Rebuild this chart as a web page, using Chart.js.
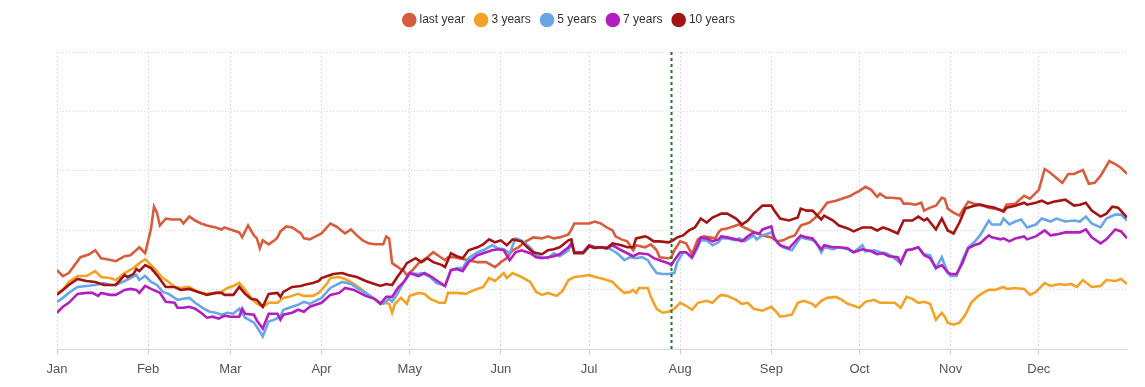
<!DOCTYPE html>
<html>
<head>
<meta charset="utf-8">
<script src="https://cdn.jsdelivr.net/npm/chart.js@4.4.1/dist/chart.umd.min.js"></script>
<style>
  html, body { margin: 0; padding: 0; background: #ffffff; }
  #wrap { width: 1145px; height: 387px; }
</style>
</head>
<body>
<div id="wrap"><canvas id="c" width="1145" height="387"></canvas></div>
<script>
// Month tick positions (day of year, 0 = Jan 1) and labels
const monthStarts = [0, 31, 59, 90, 120, 151, 181, 212, 243, 273, 304, 334];
const monthLabels = ["Jan", "Feb", "Mar", "Apr", "May", "Jun", "Jul", "Aug", "Sep", "Oct", "Nov", "Dec"];
const markerDay = 209; // Jul 29

const seriesNames = ["last year", "3 years", "5 years", "7 years", "10 years"];

// [day of year, value]
const lastYear = [[0,80],[2,74],[4,77],[6,85],[8,93],[11,96],[13,100],[15,92],[17,91],[20,89],[23,94],[25,95],[28,103],[29,100],[30,97],[32,122],[33,144],[34,138],[35,125],[37,132],[39,131],[42,131],[43,127],[45,134],[47,130],[49,127],[51,125],[54,123],[56,121],[57,123],[59,121],[62,118],[63,113],[65,125],[67,115],[68,112],[69,102],[70,110],[72,106],[74,110],[75,113],[76,119],[78,124],[80,123],[83,117],[84,112],[86,111],[88,114],[90,117],[93,127],[95,124],[98,117],[100,121],[102,115],[104,110],[106,107],[108,106],[111,106],[112,114],[113,112],[114,87],[116,83],[118,79],[119,75],[121,80],[123,87],[126,93],[128,98],[130,94],[132,90],[133,93],[135,93],[140,90],[143,88],[146,88],[149,83],[151,88],[153,92],[155,100],[157,103],[159,108],[162,113],[165,112],[167,114],[169,112],[171,113],[174,116],[175,121],[176,127],[179,127],[181,127],[183,129],[185,127],[187,123],[189,120],[190,114],[192,111],[194,109],[196,100],[197,105],[200,103],[202,106],[204,100],[205,93],[208,92],[209,93],[210,100],[212,109],[213,108],[214,107],[216,96],[218,111],[220,114],[222,113],[224,112],[225,118],[226,121],[228,122],[230,124],[232,126],[233,124],[236,120],[238,117],[240,115],[243,113],[245,109],[247,110],[249,113],[251,115],[253,125],[256,128],[258,133],[260,140],[262,148],[265,150],[267,152],[270,155],[271,157],[273,160],[275,164],[277,161],[279,154],[280,157],[282,153],[284,153],[287,152],[288,147],[290,147],[292,146],[294,148],[295,140],[297,143],[299,145],[301,153],[302,152],[303,142],[305,138],[307,135],[308,140],[310,149],[312,147],[314,146],[317,143],[319,142],[322,140],[323,146],[326,147],[329,155],[331,152],[334,161],[336,182],[338,178],[340,173],[342,168],[344,177],[346,177],[349,181],[351,167],[353,168],[355,175],[358,190],[360,187],[362,183],[364,177]];

const threeYears = [[0,57],[2,60],[4,68],[7,74],[10,74],[13,79],[15,73],[18,72],[20,70],[23,77],[26,82],[28,87],[30,91],[32,85],[33,82],[36,72],[38,68],[40,63],[42,62],[44,63],[45,63],[48,58],[51,56],[54,57],[56,58],[58,62],[60,64],[62,67],[64,60],[66,52],[68,46],[70,43],[72,47],[75,47],[77,52],[79,53],[82,56],[84,54],[87,54],[89,57],[90,60],[92,67],[93,72],[96,73],[98,71],[101,66],[103,62],[106,55],[108,51],[110,46],[111,47],[113,46],[114,37],[115,46],[117,52],[119,46],[120,54],[123,57],[125,56],[127,51],[130,47],[132,47],[133,57],[136,57],[139,56],[142,60],[145,63],[147,72],[149,69],[152,77],[153,72],[155,77],[158,73],[161,68],[163,58],[165,55],[167,57],[170,54],[172,59],[174,70],[176,73],[179,74],[181,75],[183,73],[186,71],[189,68],[191,62],[193,57],[195,58],[196,60],[197,57],[198,62],[201,62],[202,53],[204,41],[206,37],[208,38],[210,41],[212,47],[214,44],[216,40],[218,47],[221,49],[223,47],[225,53],[226,55],[228,54],[231,50],[233,46],[235,47],[237,41],[240,39],[243,43],[245,37],[246,33],[248,34],[250,35],[252,47],[254,49],[257,46],[258,43],[260,49],[262,52],[265,53],[267,50],[269,46],[271,44],[273,42],[275,48],[278,50],[280,47],[282,47],[285,47],[287,42],[289,53],[291,51],[293,47],[295,48],[297,46],[299,30],[301,37],[302,33],[303,27],[305,25],[307,27],[309,35],[311,47],[313,53],[315,57],[317,60],[319,60],[322,63],[323,61],[326,62],[329,61],[331,55],[333,58],[336,67],[338,64],[341,66],[343,65],[345,66],[347,63],[349,70],[352,63],[355,64],[357,70],[360,69],[362,71],[364,66]];

const fiveYears = [[0,48],[2,52],[4,57],[7,63],[10,64],[13,65],[16,67],[18,65],[20,65],[23,69],[25,72],[27,75],[28,70],[30,74],[32,68],[34,65],[36,58],[38,56],[41,50],[43,51],[45,52],[47,47],[50,41],[52,38],[54,37],[56,35],[58,37],[60,36],[62,41],[64,32],[67,27],[69,18],[70,13],[72,28],[74,30],[76,33],[77,40],[80,43],[82,45],[84,48],[86,46],[88,49],[90,52],[93,62],[95,65],[97,68],[100,66],[102,62],[105,57],[107,53],[109,49],[111,46],[113,51],[114,48],[116,57],[118,68],[120,77],[123,76],[124,77],[127,73],[129,67],[132,64],[134,80],[136,82],[138,82],[140,92],[143,98],[145,100],[148,105],[150,102],[152,101],[154,97],[156,112],[158,110],[161,103],[163,95],[165,93],[167,92],[169,97],[171,94],[174,100],[175,107],[176,98],[179,98],[181,105],[183,103],[185,103],[187,103],[189,100],[191,96],[193,90],[195,93],[197,92],[199,93],[201,90],[202,85],[204,77],[206,76],[208,76],[210,77],[211,88],[213,98],[214,98],[216,92],[218,103],[219,110],[221,110],[223,105],[225,108],[226,112],[228,112],[231,110],[232,112],[234,109],[237,115],[238,111],[240,115],[243,118],[245,108],[247,103],[250,100],[253,113],[256,111],[258,109],[260,98],[261,103],[264,101],[266,103],[269,101],[271,98],[274,105],[275,99],[278,100],[280,98],[282,97],[284,94],[287,87],[289,100],[291,101],[293,103],[295,96],[297,95],[299,82],[301,93],[303,77],[304,74],[306,74],[308,90],[310,103],[312,108],[314,115],[317,130],[318,126],[321,126],[322,132],[324,126],[326,129],[328,131],[330,123],[333,126],[335,132],[338,129],[340,132],[343,129],[346,130],[348,129],[350,134],[352,127],[355,123],[357,132],[360,136],[362,136],[364,130]];

const sevenYears = [[0,37],[2,43],[4,47],[7,56],[10,57],[12,57],[14,54],[15,57],[18,55],[20,55],[23,60],[25,61],[27,60],[28,57],[30,64],[32,61],[35,57],[37,48],[40,47],[41,42],[43,42],[45,43],[47,41],[49,37],[51,32],[53,33],[55,31],[57,34],[59,33],[62,33],[63,41],[64,36],[67,35],[68,29],[70,21],[72,36],[75,36],[76,30],[77,35],[80,37],[82,40],[84,38],[86,43],[88,45],[90,47],[93,55],[96,57],[98,62],[101,60],[103,57],[105,54],[108,51],[110,46],[112,53],[114,53],[116,62],[118,68],[120,77],[123,74],[125,77],[127,74],[130,68],[132,64],[134,80],[136,81],[138,79],[140,88],[143,95],[145,97],[148,100],[150,101],[152,100],[154,90],[156,98],[158,100],[161,97],[163,93],[165,92],[167,93],[169,94],[171,96],[174,103],[175,107],[176,98],[179,98],[181,105],[183,103],[185,103],[187,102],[189,105],[192,100],[194,97],[196,94],[198,97],[201,96],[203,92],[205,90],[208,87],[209,85],[210,90],[212,98],[214,98],[216,93],[218,105],[219,113],[221,112],[223,109],[225,111],[226,114],[228,113],[231,111],[233,109],[235,114],[237,118],[239,117],[240,121],[243,124],[244,112],[246,105],[249,102],[253,115],[255,113],[257,112],[260,101],[261,105],[264,103],[266,103],[269,102],[271,98],[274,101],[277,99],[279,96],[281,97],[283,94],[286,93],[287,87],[289,100],[291,101],[293,103],[295,95],[297,92],[299,82],[301,85],[303,78],[304,76],[306,76],[308,87],[310,102],[312,105],[314,107],[317,115],[318,113],[321,111],[322,112],[324,109],[326,112],[329,114],[330,111],[333,114],[336,120],[338,115],[340,116],[343,118],[346,118],[348,118],[350,121],[352,113],[355,107],[357,111],[360,121],[362,119],[364,112]];

const tenYears = [[0,55],[2,60],[4,65],[7,71],[10,69],[13,68],[16,65],[19,65],[20,65],[23,75],[24,73],[26,76],[27,81],[28,79],[30,85],[32,82],[34,75],[36,67],[37,63],[40,63],[42,60],[45,61],[47,59],[51,55],[54,57],[56,57],[57,55],[60,55],[62,63],[64,56],[66,51],[68,50],[70,43],[72,56],[75,57],[76,53],[77,58],[80,63],[83,64],[84,65],[87,67],[89,69],[90,72],[92,74],[94,76],[97,77],[99,75],[102,73],[105,69],[107,67],[110,64],[112,66],[114,65],[116,74],[118,82],[119,87],[122,92],[124,88],[126,92],[128,88],[131,85],[132,83],[134,97],[136,94],[138,92],[140,100],[143,103],[145,106],[147,111],[149,108],[151,110],[153,105],[155,111],[158,109],[160,103],[162,98],[165,96],[167,100],[169,101],[171,103],[174,110],[175,111],[176,97],[179,97],[181,104],[183,102],[185,103],[187,102],[189,107],[192,105],[194,103],[196,103],[197,112],[200,114],[201,113],[203,109],[205,109],[208,108],[209,109],[211,113],[213,115],[215,120],[217,123],[219,132],[221,128],[223,133],[226,137],[228,137],[231,132],[233,126],[235,130],[237,137],[240,145],[243,145],[244,140],[246,132],[249,130],[252,133],[253,142],[255,140],[257,140],[260,131],[261,135],[264,130],[266,125],[269,122],[271,119],[274,123],[277,123],[279,120],[281,123],[283,121],[286,117],[288,130],[291,130],[293,134],[295,130],[296,132],[299,121],[301,132],[303,120],[305,117],[307,128],[309,142],[312,145],[314,146],[317,144],[319,143],[322,139],[323,143],[326,145],[329,148],[330,146],[333,148],[335,150],[337,147],[339,149],[343,151],[346,145],[348,146],[350,148],[352,140],[355,134],[357,137],[359,144],[361,143],[364,133]];

const seriesValues = [lastYear, threeYears, fiveYears, sevenYears, tenYears];
const seriesColors = ["#d65d3d", "#f2a325", "#68a6e6", "#b21ebf", "#a31414"];

const datasets = seriesNames.map((name, i) => ({
  label: name,
  data: seriesValues[i].map(p => ({ x: p[0], y: p[1] })),
  borderColor: seriesColors[i],
  backgroundColor: seriesColors[i],
  borderWidth: 2.6,
  pointRadius: 0,
  pointHoverRadius: 0,
  tension: 0,
  fill: false,
  order: seriesNames.length - i
}));

const markerLine = {
  id: 'markerLine',
  afterDatasetsDraw(chart) {
    const { ctx, chartArea, scales } = chart;
    const x = Math.round(scales.x.getPixelForValue(markerDay)) + 0.5;
    ctx.save();
    ctx.strokeStyle = '#1b7a1b';
    ctx.lineWidth = 2;
    ctx.setLineDash([3, 3]);
    ctx.beginPath();
    ctx.moveTo(x, chartArea.top);
    ctx.lineTo(x, chartArea.bottom);
    ctx.stroke();
    ctx.restore();
  }
};

const legendSpacer = {
  id: 'legendSpacer',
  beforeInit(chart) {
    const origFit = chart.legend.fit;
    chart.legend.fit = function () {
      origFit.call(this);
      this.height += 16;
    };
  },
  afterLayout(chart) {
    // center the legend over the whole canvas rather than the padded area
    chart.legend.left -= 22;
    chart.legend.right -= 22;
  }
};

new Chart(document.getElementById('c'), {
  type: 'line',
  data: { datasets },
  plugins: [markerLine, legendSpacer],
  options: {
    responsive: false,
    animation: false,
    layout: { padding: { left: 57, right: 18, top: 2, bottom: 3 } },
    plugins: {
      legend: {
        position: 'top',
        align: 'center',
        labels: {
          usePointStyle: true,
          pointStyle: 'circle',
          boxWidth: 8.5,
          boxHeight: 8.5,
          padding: 12,
          color: '#333333',
          font: { family: "'Liberation Sans', Arial, sans-serif", size: 12 },
          sort: (a, b) => a.datasetIndex - b.datasetIndex
        }
      },
      tooltip: { enabled: false }
    },
    scales: {
      x: {
        type: 'linear',
        min: 0,
        max: 364,
        afterBuildTicks: axis => { axis.ticks = monthStarts.map(v => ({ value: v })); },
        ticks: {
          autoSkip: false,
          maxRotation: 0,
          padding: 7,
          color: '#555555',
          font: { family: "'Liberation Sans', Arial, sans-serif", size: 13 },
          callback: v => monthLabels[monthStarts.indexOf(v)]
        },
        grid: {
          color: '#dcdcdc',
          lineWidth: 1,
          drawTicks: true,
          tickLength: 5,
          tickColor: '#cccccc'
        },
        border: { display: true, color: '#d6d6d6', dash: [2, 2] }
      },
      y: {
        min: 0,
        max: 300,
        ticks: { display: false, stepSize: 60 },
        grid: { color: '#d8d8d8', lineWidth: 1, drawTicks: false },
        border: { display: false, dash: [1, 2] }
      }
    }
  }
});
</script>
</body>
</html>
